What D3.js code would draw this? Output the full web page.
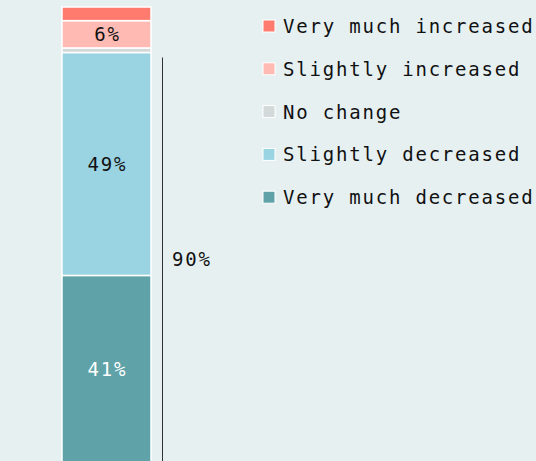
<!DOCTYPE html>
<html>
<head>
<meta charset="utf-8">
<script src="https://cdn.jsdelivr.net/npm/d3@7"></script>
<style>
  body { margin: 0; background: #e6f0f1; }
  svg { display: block; }
  text { font-family: "DejaVu Sans Mono", "Liberation Mono", monospace; }
</style>
</head>
<body>
<svg id="chart"></svg>
<script>
var screen = {width: 536, height: 461};

// stacking order, bottom to top
var categories = ["Very much decreased", "Slightly decreased", "No change", "Slightly increased", "Very much increased"];
var values = [41, 49, 1, 6, 3];
var colors = ["#5fa3a8", "#9ad3e2", "#d3d8d9", "#ffbab4", "#ff7b6e"];
var labelColors = ["#ffffff", "#111111", "#111111", "#111111", "#111111"];
var showLabel = [true, true, false, true, false];
var bracketLabel = "90%";
var bracketTotal = 90;

var fontSize = 19;
var spacing = 1.8;

var svg = d3.select("#chart")
    .attr("width", screen.width)
    .attr("height", screen.height);

var yScale = d3.scaleLinear()
    .domain([0, 100])
    .range([462, 7]);

var xScale = d3.scaleBand()
    .domain(["all"])
    .range([62, 151])
    .padding(0);

// build stack
var segs = [];
var acc = 0;
values.forEach(function(v, i) {
    segs.push({cat: categories[i], v: v, y0: acc, y1: acc + v, i: i});
    acc += v;
});

svg.append("g")
    .selectAll("rect")
    .data(segs)
    .enter()
    .append("rect")
    .attr("x", xScale("all"))
    .attr("width", xScale.bandwidth())
    .attr("y", function(d) { return yScale(d.y1); })
    .attr("height", function(d) { return yScale(d.y0) - yScale(d.y1); })
    .attr("fill", function(d) { return colors[d.i]; })
    .attr("stroke", "#ffffff")
    .attr("stroke-width", 1.5);

svg.append("g")
    .selectAll("text")
    .data(segs.filter(function(d) { return showLabel[d.i]; }))
    .enter()
    .append("text")
    .attr("x", xScale("all") + xScale.bandwidth() / 2 + spacing / 2)
    .attr("y", function(d) { return yScale((d.y0 + d.y1) / 2); })
    .attr("text-anchor", "middle")
    .attr("dominant-baseline", "central")
    .attr("font-size", fontSize)
    .attr("letter-spacing", spacing)
    .attr("fill", function(d) { return labelColors[d.i]; })
    .text(function(d) { return d.v + "%"; });

// bracket for the decreased share
svg.append("line")
    .attr("x1", 162.5).attr("x2", 162.5)
    .attr("y1", yScale(bracketTotal) + 5)
    .attr("y2", yScale(0))
    .attr("stroke", "#333333")
    .attr("stroke-width", 1);

svg.append("text")
    .attr("x", 172)
    .attr("y", (yScale(bracketTotal) + 5 + screen.height) / 2)
    .attr("dominant-baseline", "central")
    .attr("font-size", fontSize)
    .attr("letter-spacing", spacing)
    .attr("fill", "#111111")
    .text(bracketLabel);

// legend, top to bottom
var legendOrder = [4, 3, 2, 1, 0];
var legend = svg.append("g")
    .selectAll("g")
    .data(legendOrder)
    .enter()
    .append("g")
    .attr("transform", function(d, k) { return "translate(263," + (26 + k * 42.8) + ")"; });

legend.append("rect")
    .attr("x", 0)
    .attr("y", -6)
    .attr("width", 12)
    .attr("height", 12)
    .attr("fill", function(d) { return colors[d]; })
    .attr("stroke", "#ffffff")
    .attr("stroke-width", 1);

legend.append("text")
    .attr("x", 20)
    .attr("y", 0)
    .attr("dominant-baseline", "central")
    .attr("font-size", fontSize)
    .attr("letter-spacing", spacing)
    .attr("fill", "#111111")
    .text(function(d) { return categories[d]; });
</script>
</body>
</html>
